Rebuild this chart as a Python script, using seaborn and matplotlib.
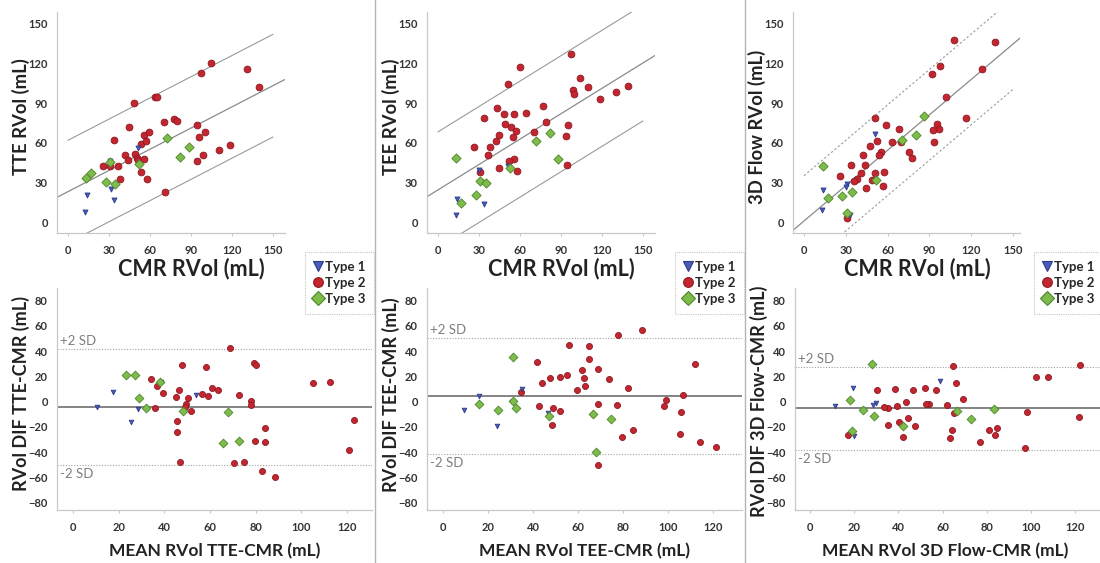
import numpy as np
import pandas as pd
import matplotlib.pyplot as plt
from matplotlib.lines import Line2D
import seaborn as sns

sns.set_theme(style='white')
plt.rcParams['font.family'] = ['Lato', 'DejaVu Sans']

### Data ###

# TTE vs CMR
tte_cmr_1 = [12.7, 13.9, 31.2, 33.7, 30.7, 51.2]
tte_val_1 = [8.0, 21.2, 25.5, 17.5, 46.5, 56.2]
tte_cmr_2 = [48.0, 64.0, 65.5, 97.6, 104.9, 130.7, 140.0, 44.4, 33.4, 70.2, 77.8, 79.5,
             94.4, 55.6, 59.0, 100.0, 95.6, 53.7, 56.8, 41.7, 43.7, 49.0, 50.5, 51.0,
             55.6, 25.4, 30.7, 36.3, 38.3, 53.2, 57.6, 70.7, 110.2, 118.3, 99.0, 94.6]
tte_val_2 = [90.0, 94.5, 94.5, 112.5, 120.0, 115.8, 101.8, 71.8, 62.2, 75.5, 78.0, 76.5,
             73.8, 66.2, 68.0, 68.0, 64.2, 59.5, 61.2, 50.8, 47.0, 52.0, 48.8, 47.0,
             48.2, 43.0, 43.0, 43.0, 33.2, 38.0, 33.2, 23.0, 55.0, 58.8, 50.8, 46.2]
tte_cmr_3 = [12.9, 16.6, 27.6, 34.4, 30.7, 52.0, 72.2, 81.9, 88.3]
tte_val_3 = [33.8, 37.5, 30.5, 29.5, 45.8, 44.2, 63.8, 49.2, 56.8]

# TEE vs CMR
tee_cmr_1 = [12.9, 13.9, 30.2, 33.9, 31.2, 51.2]
tee_val_1 = [6.2, 18.0, 40.0, 14.5, 30.5, 42.5]
tee_cmr_2 = [59.8, 51.5, 97.3, 104.1, 98.5, 99.8, 109.8, 118.3, 130.5, 139.3, 42.9, 33.9,
             48.0, 55.9, 64.6, 77.1, 26.1, 38.3, 36.6, 42.2, 44.6, 49.0, 53.4, 57.3,
             54.9, 79.0, 70.2, 95.4, 93.9, 94.1, 55.6, 51.7, 44.4, 58.0, 31.0]
tee_val_2 = [116.8, 104.0, 127.0, 109.0, 100.0, 96.5, 101.8, 92.8, 98.2, 103.0, 86.5, 78.5,
             82.0, 81.5, 82.8, 87.5, 57.2, 56.8, 51.0, 61.8, 66.0, 74.2, 72.2, 69.2,
             64.2, 76.0, 68.0, 73.2, 65.5, 43.8, 48.0, 46.2, 41.0, 39.2, 38.5]
tee_cmr_3 = [13.4, 71.7, 81.7, 87.8, 52.7, 31.0, 35.1, 27.8, 17.1]
tee_val_3 = [48.8, 61.5, 67.5, 48.2, 41.2, 31.5, 29.8, 21.0, 15.2]

# 3D Flow vs CMR
flow_cmr_1 = [13.9, 12.9, 30.6, 30.1, 33.2, 50.9]
flow_val_1 = [25.0, 9.5, 29.5, 27.0, 6.2, 67.0]
flow_cmr_2 = [107.7, 136.9, 92.2, 97.7, 128.0, 102.2, 116.1, 50.6, 58.5, 68.5, 95.3, 92.4,
              97.0, 93.1, 52.5, 63.5, 69.5, 47.0, 54.9, 53.5, 42.3, 75.7, 77.6, 33.7,
              43.7, 41.1, 51.1, 57.1, 38.0, 35.6, 48.5, 25.8, 44.2, 56.4, 30.6]
flow_val_2 = [137.0, 135.5, 112.0, 117.5, 115.5, 94.2, 79.0, 79.0, 73.5, 70.2, 74.2, 70.0,
              70.8, 60.8, 61.5, 60.5, 60.8, 57.5, 53.0, 51.2, 51.2, 53.2, 48.8, 43.5,
              43.2, 37.8, 37.8, 38.0, 32.8, 31.2, 32.2, 35.2, 26.0, 28.0, 3.8]
flow_cmr_3 = [13.4, 17.2, 27.5, 34.6, 51.6, 70.2, 80.2, 86.2, 30.6]
flow_val_3 = [43.0, 18.8, 20.5, 23.0, 32.2, 62.5, 66.0, 80.5, 7.5]

# regression line (intercept, slope) and prediction band half-width
fit_params = {'TTE': (23.5, 0.53, 38.5), 'TEE': (24.8, 0.635, 43.5), '3D Flow': (1.5, 0.885, 34.0)}
# Bland-Altman: mean bias, +2 SD, -2 SD
ba_limits = {'TTE': (-4.0, 41.5, -50.0), 'TEE': (4.0, 50.0, -41.6), '3D Flow': (-5.5, 27.0, -38.4)}

types = ['Type 1', 'Type 2', 'Type 3']
type_style = {
    'Type 1': dict(marker='v', color='#4a5cb8', edgecolor='#2c3a8c'),
    'Type 2': dict(marker='o', color='#c3262f', edgecolor='#8c1821'),
    'Type 3': dict(marker='D', color='#7dbb4a', edgecolor='#4e862b'),
}
top_size = {'Type 1': 13, 'Type 2': 24, 'Type 3': 22}
bot_size = {'Type 1': 11, 'Type 2': 19, 'Type 3': 20}

panels = [
    ('TTE', [tte_cmr_1, tte_cmr_2, tte_cmr_3], [tte_val_1, tte_val_2, tte_val_3]),
    ('TEE', [tee_cmr_1, tee_cmr_2, tee_cmr_3], [tee_val_1, tee_val_2, tee_val_3]),
    ('3D Flow', [flow_cmr_1, flow_cmr_2, flow_cmr_3], [flow_val_1, flow_val_2, flow_val_3]),
]

W, H = 1100, 563
fig = plt.figure(figsize=(11, 5.63), dpi=100, facecolor='w')

def px_axes(l, r, t, b):
    return fig.add_axes([l / W, 1 - b / H, (r - l) / W, (b - t) / H])

# pixel boxes: (left, right, top, bottom) and limits
top_boxes = [(57, 285, 12, 233), (427, 655, 12, 233), (793, 1020, 12, 233)]
top_xlims = [(-8.0, 158.8), (-8.0, 158.8), (-7.9, 155.0)]
bot_boxes = [(57, 372, 288, 510), (427, 742, 288, 510), (795, 1100, 288, 510)]
bot_xlims = [(-7.0, 131.0), (-7.1, 132.9), (-6.8, 131.3)]
# label anchors (axes fraction): xlabel top edge, ylabel right edge
top_xlab = [(0.59, -0.11), (0.59, -0.11), (0.548, -0.11)]
top_ylab = [(-0.118, 0.525), (-0.118, 0.525), (-0.118, 0.48)]
bot_xlab = [(0.502, -0.15), (0.50, -0.15), (0.494, -0.15)]
bot_ylab = [(-0.086, 0.523), (-0.086, 0.52), (-0.088, 0.49)]
legend_x = [305, 675, 1034]

tick_kw = dict(labelsize=8, labelcolor='#333333', length=2.5, color='#c8c8c8', width=0.8)

def style_axes(ax):
    sns.despine(ax=ax)
    for s in ['left', 'bottom']:
        ax.spines[s].set_color('#c8c8c8')
        ax.spines[s].set_linewidth(0.9)
    ax.tick_params(axis='both', **tick_kw)
    ax.tick_params(axis='x', pad=6, bottom=True)
    ax.tick_params(axis='y', pad=4, left=False)
    for lab in ax.get_xticklabels() + ax.get_yticklabels():
        lab.set_fontweight('bold')

for i, (name, xs_list, ys_list) in enumerate(panels):
    frames = []
    for t, xs, ys in zip(types, xs_list, ys_list):
        frames.append(pd.DataFrame({'cmr': xs, 'val': ys, 'type': t}))
    df = pd.concat(frames, ignore_index=True)
    df['mean'] = (df['cmr'] + df['val']) / 2
    df['dif'] = df['val'] - df['cmr']

    # ---- scatter with regression ----
    ax = px_axes(*top_boxes[i])
    ax.set_xlim(*top_xlims[i])
    ax.set_ylim(-7.5, 158.25)
    b0, b1, band = fit_params[name]
    xl = np.array(top_xlims[i])
    ax.plot(xl, b0 + b1 * xl, color='#8a8a8a', lw=0.9, zorder=1)
    xb = np.array([0, 150])
    band_ls = (0, (2, 2)) if name == '3D Flow' else '-'
    for sgn in (1, -1):
        ax.plot(xb, b0 + b1 * xb + sgn * band, color='#9a9a9a', lw=0.8, ls=band_ls, zorder=1)
    for t in ['Type 2', 'Type 1', 'Type 3']:
        sub = df[df['type'] == t]
        sns.scatterplot(data=sub, x='cmr', y='val', ax=ax, s=top_size[t], linewidth=0.6,
                        legend=False, zorder=3, **type_style[t])
    ax.set_xticks([0, 30, 60, 90, 120, 150])
    ax.set_yticks([0, 30, 60, 90, 120, 150])
    style_axes(ax)
    ax.set_xlabel('CMR RVol (mL)', fontsize=15.5, fontweight='bold', color='#222222')
    ax.set_ylabel(f'{name} RVol (mL)', fontsize=13.3, fontweight='bold', color='#222222')
    ax.xaxis.set_label_coords(*top_xlab[i])
    ax.yaxis.set_label_coords(*top_ylab[i])

    # ---- Bland-Altman ----
    ax2 = px_axes(*bot_boxes[i])
    ax2.set_xlim(*bot_xlims[i])
    ax2.set_ylim(-85.9, 89.9)
    m, up, lo = ba_limits[name]
    ax2.axhline(m, color='#7a7a7a', lw=1.3, zorder=1)
    ax2.axhline(up, color='#a0a0a0', lw=0.8, ls=(0, (1, 1.5)), zorder=1)
    ax2.axhline(lo, color='#a0a0a0', lw=0.8, ls=(0, (1, 1.5)), zorder=1)
    ax2.annotate('+2 SD', xy=(0, up), xycoords=('axes fraction', 'data'), xytext=(2, 6),
                 textcoords='offset points', va='center', ha='left', fontsize=9.5, color='#7f7f7f')
    ax2.annotate('-2 SD', xy=(0, lo), xycoords=('axes fraction', 'data'), xytext=(2, -6.5),
                 textcoords='offset points', va='center', ha='left', fontsize=9.5, color='#7f7f7f')
    for t in ['Type 2', 'Type 1', 'Type 3']:
        sub = df[df['type'] == t]
        sns.scatterplot(data=sub, x='mean', y='dif', ax=ax2, s=bot_size[t], linewidth=0.6,
                        legend=False, zorder=3, **type_style[t])
    ax2.set_xticks([0, 20, 40, 60, 80, 100, 120])
    ax2.set_yticks([-80, -60, -40, -20, 0, 20, 40, 60, 80])
    style_axes(ax2)
    ax2.set_xlabel(f'MEAN RVol {name}-CMR (mL)', fontsize=12.5, fontweight='bold', color='#222222')
    ax2.set_ylabel(f'RVol DIF {name}-CMR (mL)', fontsize=13, fontweight='bold', color='#222222')
    ax2.xaxis.set_label_coords(*bot_xlab[i])
    ax2.yaxis.set_label_coords(*bot_ylab[i])

    # ---- legend ----
    handles = [Line2D([], [], ls='none', marker=type_style[t]['marker'], markersize=7,
                      markerfacecolor=type_style[t]['color'],
                      markeredgecolor=type_style[t]['edgecolor'], markeredgewidth=0.8)
               for t in types]
    leg = fig.legend(handles, types, loc='upper left',
                     bbox_to_anchor=(legend_x[i] / W, 1 - 252 / H), borderaxespad=0,
                     frameon=True, fancybox=False, handlelength=0.6, handletextpad=0.3,
                     labelspacing=0.32, borderpad=0.65,
                     prop=dict(weight='bold', size=9.5))
    leg.get_frame().set_edgecolor('#b8b8b8')
    leg.get_frame().set_linestyle((0, (1, 1)))
    leg.get_frame().set_linewidth(0.8)

# column separators
for xs in (375, 745):
    fig.add_artist(Line2D([xs / W, xs / W], [0, 1], color='#b5b5b5', lw=1.0))

plt.savefig('out.png', dpi=100, facecolor='w')
